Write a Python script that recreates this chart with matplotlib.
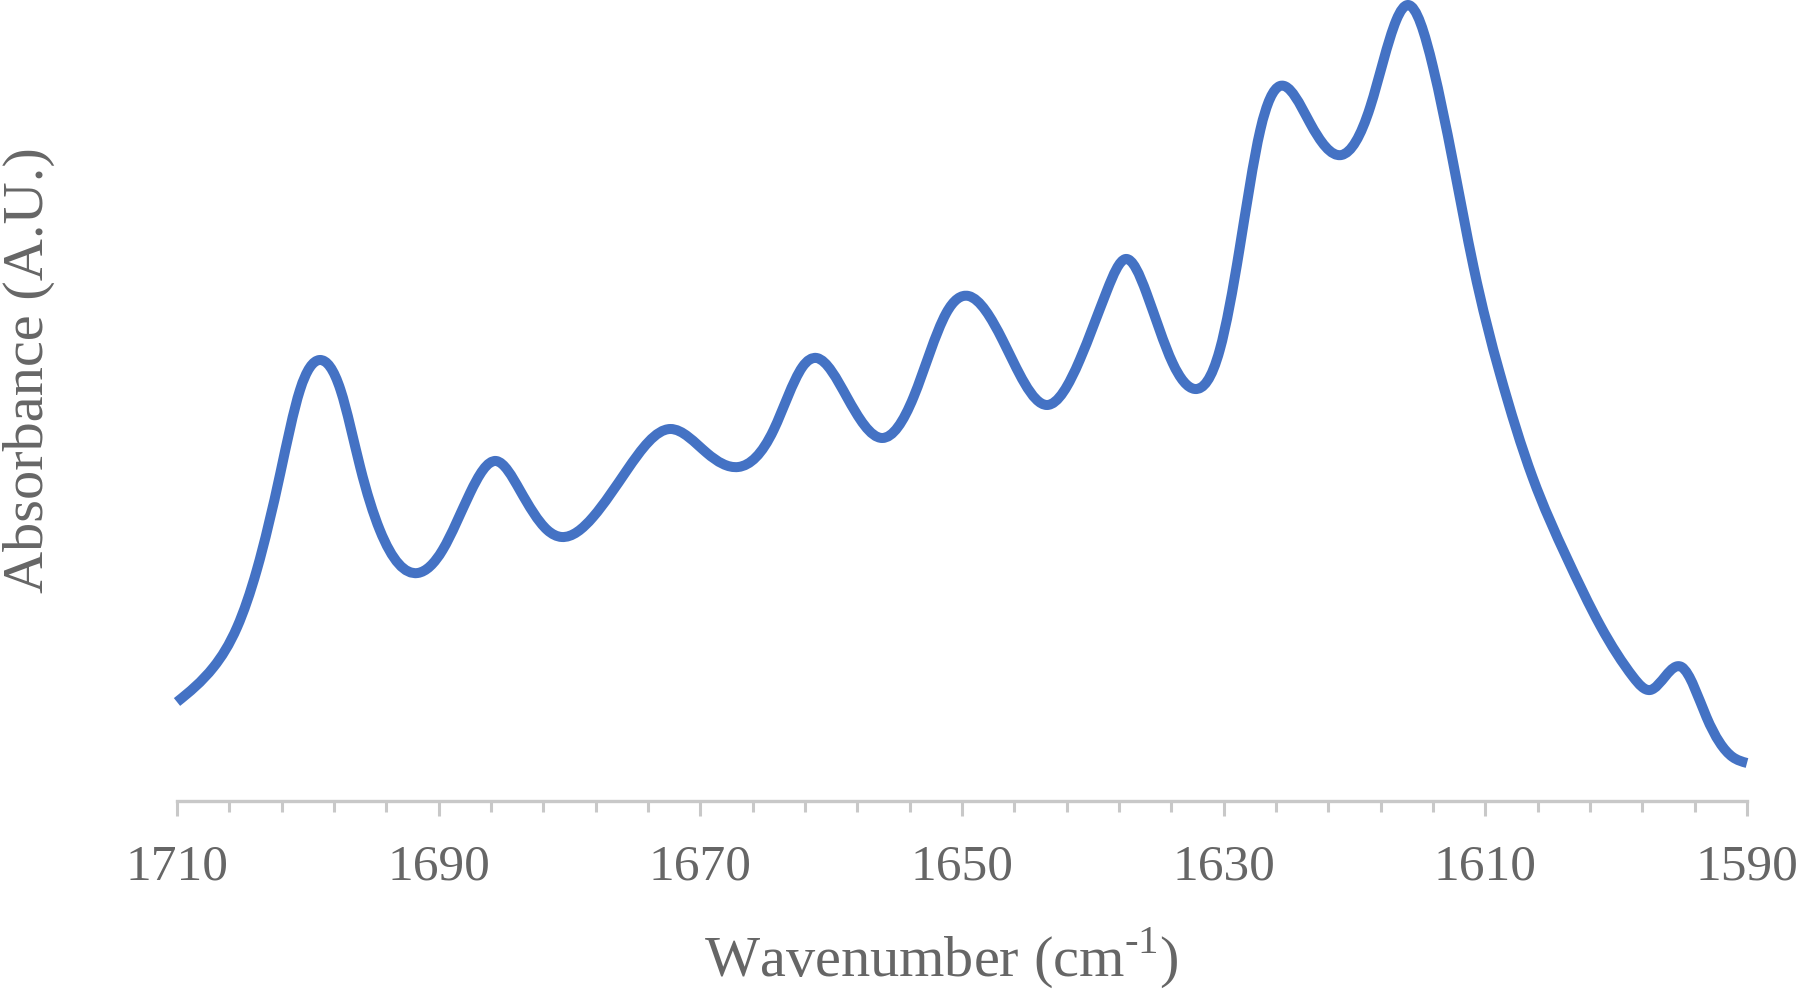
import matplotlib
matplotlib.use("Agg")
import numpy as np
import matplotlib.pyplot as plt
from matplotlib.path import Path
from matplotlib.patches import PathPatch

# wavenumber (cm-1) and absorbance (arbitrary units)
wavenumber = [1710.0, 1707.2, 1705.4, 1703.9, 1702.1, 1700.6, 1699.1, 1697.5, 1696.0, 1694.5,
              1691.6, 1689.7, 1687.6, 1685.6, 1683.8, 1681.7, 1680.6, 1678.2, 1675.6, 1672.3,
              1669.5, 1667.1, 1664.4, 1662.2, 1661.1, 1658.8, 1656.1, 1653.7, 1651.2, 1649.5,
              1646.9, 1643.5, 1641.0, 1638.9, 1637.5, 1635.9, 1633.9, 1632.2, 1630.3, 1628.8,
              1627.2, 1625.7, 1623.4, 1621.0, 1618.8, 1616.8, 1615.9, 1614.0, 1612.5, 1610.9,
              1608.9, 1606.4, 1603.8, 1601.2, 1598.7, 1597.4, 1595.0, 1593.1, 1591.1, 1590.0]
absorbance = [0.099, 0.134, 0.174, 0.231, 0.328, 0.411, 0.441, 0.411, 0.334, 0.271,
              0.228, 0.251, 0.308, 0.340, 0.311, 0.271, 0.264, 0.284, 0.331, 0.372,
              0.348, 0.334, 0.371, 0.434, 0.443, 0.404, 0.363, 0.404, 0.488, 0.505,
              0.461, 0.396, 0.441, 0.511, 0.542, 0.508, 0.438, 0.412, 0.451, 0.551,
              0.671, 0.715, 0.678, 0.646, 0.694, 0.781, 0.796, 0.734, 0.641, 0.534,
              0.428, 0.324, 0.244, 0.175, 0.124, 0.111, 0.134, 0.084, 0.044, 0.038]

major_ticks = [1710, 1690, 1670, 1650, 1630, 1610, 1590]
minor_ticks = [t for t in range(1710, 1589, -4) if t not in major_ticks]

plt.rcParams['font.family'] = ['Liberation Serif', 'DejaVu Serif']
plt.rcParams['mathtext.fontset'] = 'custom'
plt.rcParams['mathtext.rm'] = 'Liberation Serif'

text_grey = '#666666'
axis_grey = '#C8C8C8'

fig = plt.figure(figsize=(18, 9.89), dpi=100)
ax = fig.add_axes([177/1800, 188/989, 1570/1800, 801/989])
ax.set_xlim(1710, 1590)
ax.set_ylim(0, 0.801)

# smoothed line through the read points: natural cubic spline, each piece
# handed to matplotlib as a bezier segment
x = np.array(wavenumber[::-1])
y = np.array(absorbance[::-1])
h = np.diff(x)
n = len(x)
A = np.zeros((n, n))
r = np.zeros(n)
A[0, 0] = A[-1, -1] = 1
for i in range(1, n - 1):
    A[i, i - 1] = h[i - 1]
    A[i, i] = 2 * (h[i - 1] + h[i])
    A[i, i + 1] = h[i]
    r[i] = 6 * ((y[i + 1] - y[i]) / h[i] - (y[i] - y[i - 1]) / h[i - 1])
M = np.linalg.solve(A, r)

verts = [(x[0], y[0])]
codes = [Path.MOVETO]
for i in range(n - 1):
    s = (y[i + 1] - y[i]) / h[i]
    m0 = s - h[i] * (2 * M[i] + M[i + 1]) / 6
    m1 = s + h[i] * (M[i] + 2 * M[i + 1]) / 6
    verts += [(x[i] + h[i] / 3, y[i] + m0 * h[i] / 3),
              (x[i + 1] - h[i] / 3, y[i + 1] - m1 * h[i] / 3),
              (x[i + 1], y[i + 1])]
    codes += [Path.CURVE4] * 3
line = PathPatch(Path(verts, codes), fill=False, edgecolor='#4472C4', lw=7.2,
                 joinstyle='round', capstyle='butt', clip_on=False)
ax.add_patch(line)

ax.set_xticks(major_ticks)
ax.set_xticklabels([str(t) for t in major_ticks])
ax.set_xticks(minor_ticks, minor=True)
ax.set_yticks([])

for s in ['top', 'right', 'left']:
    ax.spines[s].set_visible(False)
ax.spines['bottom'].set_color(axis_grey)
ax.spines['bottom'].set_linewidth(2.4)

ax.tick_params(axis='x', which='major', length=11, width=2.2, color=axis_grey,
               labelsize=37, labelcolor=text_grey, pad=20)
ax.tick_params(axis='x', which='minor', length=8, width=2.2, color=axis_grey)

fig.text(941/1800, 1 - 958/989, 'Wavenumber (cm$^{\\mathregular{\u2010}1}$)',
         ha='center', va='center', fontsize=42, color=text_grey)
fig.text(29/1800, 1 - 370/989, 'Absorbance (A.U.)', rotation=90,
         ha='center', va='center', fontsize=42, color=text_grey)

fig.savefig('out.png', dpi=100)
